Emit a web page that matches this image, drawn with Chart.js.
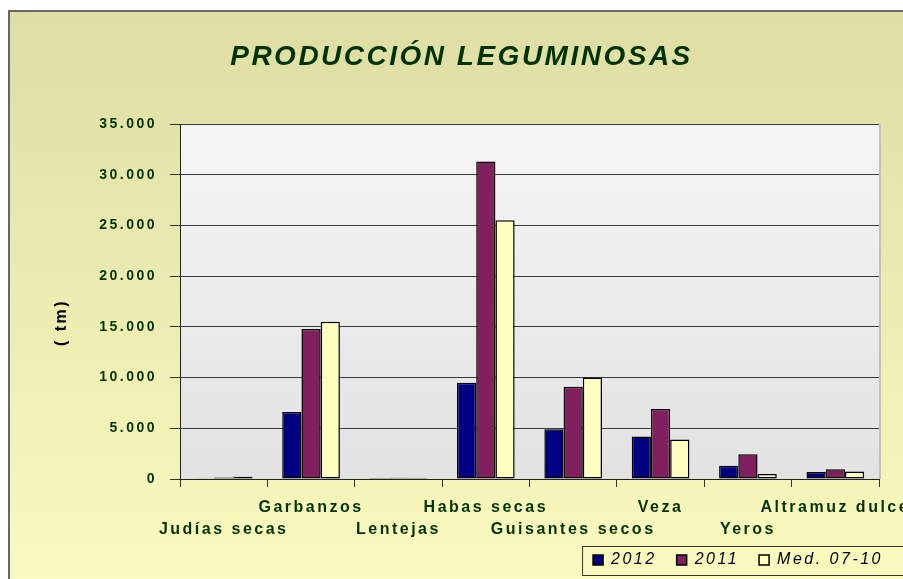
<!DOCTYPE html>
<html>
<head>
<meta charset="utf-8">
<script src="https://cdn.jsdelivr.net/npm/chart.js@4.4.0/dist/chart.umd.min.js"></script>
<style>
  html, body { margin: 0; padding: 0; background: #fff; }
</style>
</head>
<body>
<canvas id="chart" width="903" height="579"></canvas>
<script>
const categories = ['Judías secas', 'Garbanzos', 'Lentejas', 'Habas secas', 'Guisantes secos', 'Veza', 'Yeros', 'Altramuz dulce'];
const values2012 = [20, 6600, 110, 9500, 4900, 4200, 1300, 700];
const values2011 = [140, 14800, 120, 31300, 9100, 6900, 2450, 950];
const valuesMed = [220, 15500, 110, 25500, 10000, 3900, 500, 750];
const seriesNames = ['2012', '2011', 'Med. 07-10'];
const yMax = 35000;
const yStep = 5000;
const chartTitle = 'PRODUCCIÓN LEGUMINOSAS';
const yAxisTitle = '( tm)';

const green = '#003300';
const font = 'Liberation Sans, Arial, sans-serif';

function thousands(v) {
  return String(v).replace(/\B(?=(\d{3})+(?!\d))/g, '.');
}

// excel-like wide text
const spacing = {
  id: 'spacing',
  beforeInit(chart) { chart.ctx.letterSpacing = '2.5px'; },
  beforeUpdate(chart) { chart.ctx.letterSpacing = '2.5px'; },
  beforeDraw(chart) { chart.ctx.letterSpacing = '2.5px'; }
};

const backdrop = {
  id: 'backdrop',
  beforeDraw(chart) {
    const { ctx, width, height, chartArea: a } = chart;
    ctx.save();
    ctx.fillStyle = '#fff';
    ctx.fillRect(0, 0, width, height);
    const g = ctx.createLinearGradient(0, 11, 0, height);
    g.addColorStop(0, '#dedea4');
    g.addColorStop(1, '#fafabf');
    ctx.fillStyle = g;
    ctx.fillRect(9, 11, width - 9, height - 11);
    ctx.strokeStyle = '#666';
    ctx.lineWidth = 2;
    ctx.beginPath();
    ctx.moveTo(9, height);
    ctx.lineTo(9, 11);
    ctx.lineTo(width, 11);
    ctx.stroke();

    const pg = ctx.createLinearGradient(0, a.top, 0, a.bottom);
    pg.addColorStop(0, '#f5f5f5');
    pg.addColorStop(1, '#e2e2e2');
    ctx.fillStyle = pg;
    ctx.fillRect(a.left, a.top, a.right - a.left, a.bottom - a.top);

    // legend frame
    const hb = chart.legend && chart.legend.legendHitBoxes;
    if (hb && hb.length) {
      const cy = hb[0].top + hb[0].height / 2;
      ctx.strokeStyle = '#333';
      ctx.lineWidth = 1;
      ctx.strokeRect(hb[0].left - 10.5, cy - 13.5, width, 29);
    }
    ctx.restore();
  },
  afterDatasetsDraw(chart) {
    const { ctx, chartArea: a } = chart;
    ctx.save();
    ctx.strokeStyle = '#c0c0c0';
    ctx.lineWidth = 2;
    ctx.beginPath();
    ctx.moveTo(a.right + 1, a.top);
    ctx.lineTo(a.right + 1, a.bottom);
    ctx.stroke();
    ctx.restore();
  },
  afterDraw(chart) {
    const { ctx, chartArea: a } = chart;
    ctx.save();
    ctx.translate(a.left - 118, (a.top + a.bottom) / 2 + 21);
    ctx.rotate(-Math.PI / 2);
    ctx.font = 'bold 16px ' + font;
    ctx.fillStyle = '#000';
    ctx.textAlign = 'center';
    ctx.textBaseline = 'middle';
    ctx.fillText(yAxisTitle, 0, 0);
    ctx.restore();
  }
};

const barStyle = { borderColor: '#000', borderWidth: 1.5, borderSkipped: false };

new Chart(document.getElementById('chart'), {
  type: 'bar',
  data: {
    labels: categories,
    datasets: [
      { label: seriesNames[0], data: values2012, backgroundColor: '#000080', ...barStyle },
      { label: seriesNames[1], data: values2011, backgroundColor: '#80205e', ...barStyle },
      { label: seriesNames[2], data: valuesMed, backgroundColor: '#ffffc0', ...barStyle }
    ]
  },
  options: {
    responsive: false,
    animation: false,
    devicePixelRatio: 1,
    layout: { padding: { left: 20, right: 0, top: 0, bottom: 1 } },
    datasets: { bar: { categoryPercentage: 0.66, barPercentage: 1 } },
    plugins: {
      title: {
        display: true,
        text: chartTitle,
        color: green,
        font: { family: font, size: 28, weight: 'bold', style: 'italic' },
        padding: { top: 40, bottom: 50.4 }
      },
      legend: {
        position: 'bottom',
        align: 'end',
        labels: {
          color: '#000',
          font: { family: font, size: 16, style: 'italic' },
          boxWidth: 10,
          boxHeight: 10,
          padding: 20
        }
      },
      tooltip: { enabled: false }
    },
    scales: {
      x: {
        grid: { offset: true, drawOnChartArea: false, tickLength: 8, color: '#333' },
        border: { color: '#222', width: 1 },
        ticks: {
          autoSkip: false,
          maxRotation: 0,
          minRotation: 0,
          padding: 10,
          color: green,
          font: { family: font, size: 16, weight: 'bold', lineHeight: 1.375 },
          callback: (v, i) => i % 2 === 0 ? ['', categories[i]] : [categories[i], '']
        },
        afterFit(scale) {
          scale.paddingLeft = 0;
          scale.paddingRight = 24;
          scale.height = 53;
          // second label row hangs below the axis box, don't clip it
          scale._computeLabelArea = () => undefined;
        }
      },
      y: {
        min: 0,
        max: yMax,
        grid: { color: '#3a3a3a', tickLength: 10, tickColor: '#333' },
        border: { color: '#222', width: 1 },
        ticks: {
          stepSize: yStep,
          padding: 13,
          color: green,
          font: { family: font, size: 14, weight: 'bold' },
          callback: (v) => thousands(v)
        },
        afterFit(scale) {
          scale.width = 160;
        }
      }
    }
  },
  plugins: [spacing, backdrop]
});
</script>
</body>
</html>
